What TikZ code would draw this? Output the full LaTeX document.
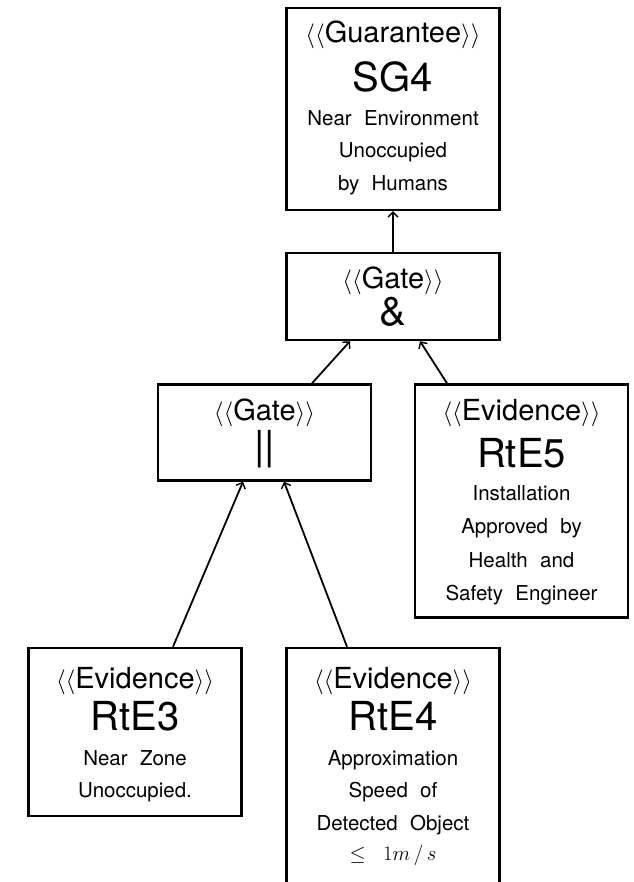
\documentclass[tikz,border=0pt]{standalone}
\usepackage{fontspec}
\setmainfont{TeX Gyre Heros}
\usetikzlibrary{arrows.meta}
\newcommand{\gap}{\hspace{0.6em}}
\newcommand{\stereo}[1]{$\langle\langle$#1$\rangle\rangle$}
\tikzset{
  box/.style={draw, line width=2.4pt, minimum width=213pt, inner sep=0pt},
  st/.style={anchor=base, font=\fontsize{29}{33}\selectfont, inner sep=0pt},
  idt/.style={anchor=base, font=\fontsize{40}{46}\selectfont, inner sep=0pt},
  ds/.style={anchor=base, font=\fontsize{20.5}{25}\selectfont, inner sep=0pt},
  link/.style={line width=1.8pt, -{Straight Barb[length=5pt,width=10pt,line width=1.4pt]}}
}
\begin{document}
\begin{tikzpicture}[x=1pt,y=-1pt]
\useasboundingbox (0,0) rectangle (633,882);
\clip (0,0) rectangle (633,882);
% boxes
\node[box, minimum height=202pt] (sg4) at (393,109) {};
\node[box, minimum height=87pt] (gand) at (393,296.5) {};
\node[box, minimum height=96pt] (gor) at (264.5,432.5) {};
\node[box, minimum height=233pt] (rte5) at (521.5,501) {};
\node[box, minimum height=168pt] (rte3) at (135,732) {};
\node[box, minimum height=238pt] (rte4) at (393,767) {};
% SG4
\node[st] (sg4a) at (393,43) {\stereo{Guarantee}};
\node[idt] (sg4b) at (393,92) {SG4};
\node[ds] (sg4c) at (393,126) {Near\gap Environment};
\node[ds] (sg4d) at (393,158) {Unoccupied};
\node[ds] (sg4e) at (393,191) {by\gap Humans};
% Gate &
\node[st] (ganda) at (393,288) {\stereo{Gate}};
\node[idt] (gandb) at (393,325) {\&};
% Gate ||
\node[st] (gora) at (264.5,420) {\stereo{Gate}};
\node[idt] (gorb) at (264.5,459) {||};
% RtE5
\node[st] (r5a) at (521.5,420) {\stereo{Evidence}};
\node[idt] (r5b) at (521.5,467) {RtE5};
\node[ds] (r5c) at (521.5,500) {Installation};
\node[ds] (r5d) at (521.5,533) {Approved\gap by};
\node[ds] (r5e) at (521.5,567) {Health\gap and};
\node[ds] (r5f) at (521.5,600) {Safety\gap Engineer};
% RtE3
\node[st] (r3a) at (135,688) {\stereo{Evidence}};
\node[idt] (r3b) at (135,730) {RtE3};
\node[ds] (r3c) at (135,765) {Near\gap Zone};
\node[ds] (r3d) at (135,797) {Unoccupied.};
% RtE4
\node[st] (r4a) at (393,688) {\stereo{Evidence}};
\node[idt] (r4b) at (393,730) {RtE4};
\node[ds] (r4c) at (393,765) {Approximation};
\node[ds] (r4d) at (393,797) {Speed\gap of};
\node[ds] (r4e) at (393,830) {Detected\gap Object};
\node[ds] (r4f) at (393,860) {$\leq\ \;1m\,/\,s$};
% connectors
\draw[link] (gand.north) -- (sg4.south);
\draw[link] ([xshift=47.5pt]gor.north) -- ([xshift=-43pt]gand.south);
\draw[link] ([xshift=-74.5pt]rte5.north) -- ([xshift=27pt]gand.south);
\draw[link] ([xshift=38pt]rte3.north) -- ([xshift=-21.5pt]gor.south);
\draw[link] ([xshift=-46pt]rte4.north) -- ([xshift=19.5pt]gor.south);
\end{tikzpicture}
\end{document}
